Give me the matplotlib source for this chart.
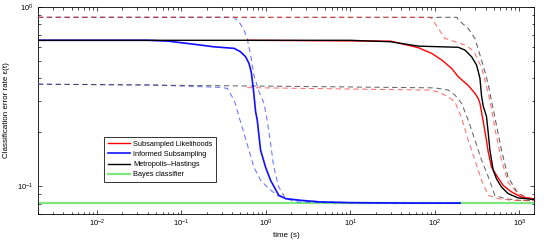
import matplotlib.pyplot as plt
import matplotlib.ticker as mticker

plt.rcParams["font.family"] = ["Liberation Sans", "DejaVu Sans"]
plt.rcParams["mathtext.fontset"] = "custom"
plt.rcParams["mathtext.rm"] = "Liberation Sans"
plt.rcParams["mathtext.it"] = "Liberation Sans:italic"

# --- Informed Subsampling (blue) ---
is_t = [0.002, 0.04, 0.07, 0.1, 0.16, 0.24, 0.42, 0.5, 0.575, 0.63, 0.67, 0.71,
        0.756, 0.79, 0.865, 0.99, 1.135, 1.42, 1.71, 2.57, 4.43, 10, 50, 200]
is_e = [0.652, 0.652, 0.645, 0.632, 0.615, 0.600, 0.588, 0.563, 0.528, 0.485, 0.435, 0.351,
        0.260, 0.234, 0.159, 0.128, 0.108, 0.089, 0.0853, 0.0835, 0.0817, 0.081, 0.0805, 0.0805]
is_up_t = [0.002, 0.42, 0.48, 0.55, 0.60, 0.66, 0.72, 0.83, 0.95, 1.035, 1.135, 1.24,
           1.42, 1.71, 2.32, 5, 20, 200]
is_up_e = [0.876, 0.876, 0.828, 0.744, 0.668, 0.54, 0.417, 0.336, 0.29, 0.234, 0.174, 0.128,
           0.099, 0.0853, 0.0817, 0.081, 0.0805, 0.0805]
is_lo_t = [0.002, 0.04, 0.3, 0.35, 0.40, 0.42, 0.44, 0.48, 0.55, 0.63, 0.72, 0.865,
           1.084, 1.36, 1.71, 2.57, 10, 200]
is_lo_e = [0.371, 0.368, 0.356, 0.351, 0.315, 0.302, 0.284, 0.244, 0.198, 0.159, 0.128, 0.108,
           0.097, 0.089, 0.0853, 0.083, 0.081, 0.0805]

# --- Metropolis-Hastings (black) ---
mh_t = [0.002, 10, 30, 64, 190, 228, 273, 313, 343, 358, 375, 410, 430, 450, 492,
        539, 617, 739, 971, 1500]
mh_e = [0.652, 0.652, 0.64, 0.605, 0.596, 0.575, 0.528, 0.474, 0.40, 0.32, 0.28, 0.245,
        0.198, 0.159, 0.123, 0.11, 0.099, 0.091, 0.0861, 0.0843]
mh_up_t = [0.002, 183, 190, 249, 299, 343, 393, 430, 470, 515, 617, 739, 971, 1300, 1500]
mh_up_e = [0.876, 0.876, 0.846, 0.76, 0.668, 0.54, 0.435, 0.37, 0.3, 0.243, 0.159, 0.112,
           0.091, 0.0853, 0.085]
mh_lo_t = [0.002, 1, 100, 145, 174, 208, 249, 299, 358, 430, 515, 676, 971, 1500]
mh_lo_e = [0.371, 0.362, 0.354, 0.344, 0.322, 0.29, 0.234, 0.181, 0.14, 0.113, 0.089,
           0.0853, 0.0835, 0.083]

# --- Subsampled Likelihoods (red) ---
sl_t = [0.6, 30, 64, 92, 121, 158, 190, 249, 299, 327, 343, 358, 375, 410, 430, 470,
        539, 646, 809, 1062, 1500]
sl_e = [0.652, 0.645, 0.593, 0.551, 0.506, 0.455, 0.408, 0.365, 0.33, 0.309, 0.29, 0.26,
        0.23, 0.18, 0.155, 0.128, 0.115, 0.101, 0.093, 0.087, 0.085]
sl_up_t = [0.002, 84, 92, 110, 132, 174, 228, 273, 299, 358, 430, 470, 515, 617, 739,
           971, 1381, 1500]
sl_up_e = [0.876, 0.876, 0.865, 0.76, 0.668, 0.64, 0.613, 0.58, 0.55, 0.46, 0.33, 0.27,
           0.21, 0.14, 0.105, 0.091, 0.0853, 0.085]
sl_lo_t = [0.6, 84, 110, 145, 174, 208, 249, 299, 358, 430, 564, 809, 1500]
sl_lo_e = [0.355, 0.344, 0.336, 0.315, 0.295, 0.24, 0.181, 0.14, 0.108, 0.089, 0.0853,
           0.0835, 0.083]

# --- Bayes classifier (green) ---
bayes_t = [0.002, 1500]
bayes_e = [0.0807, 0.0807]

fig = plt.figure(figsize=(5.54, 2.42), dpi=100)
ax = fig.add_axes([0.0686, 0.1157, 0.8954, 0.8553])

dash = (5, 3.5)
ax.plot(bayes_t, bayes_e, color="#7ee87e", lw=1.6, zorder=2)

ax.plot(is_up_t, is_up_e, color="#4a5cff", lw=0.75, dashes=dash, alpha=0.85, zorder=3)
ax.plot(is_lo_t, is_lo_e, color="#4a5cff", lw=0.75, dashes=dash, alpha=0.85, zorder=3)
ax.plot(mh_up_t, mh_up_e, color="#333333", lw=0.75, dashes=dash, alpha=0.8, zorder=3)
ax.plot(mh_lo_t, mh_lo_e, color="#333333", lw=0.75, dashes=dash, alpha=0.75, zorder=3)
ax.plot(sl_up_t, sl_up_e, color="#ff3030", lw=0.75, dashes=dash, alpha=0.7, zorder=3)
ax.plot(sl_lo_t, sl_lo_e, color="#ff3030", lw=0.75, dashes=dash, alpha=0.7, zorder=3)

ax.plot(sl_t, sl_e, color="#ff0000", lw=1.0, zorder=4, label="Subsampled Likelihoods")
ax.plot(is_t, is_e, color="#1010ff", lw=1.2, zorder=4, label="Informed Subsampling")
ax.plot(mh_t, mh_e, color="black", lw=1.0, zorder=4, label="Metropolis\u2013Hastings")
ax.plot([], [], color="#7ee87e", lw=1.6, label="Bayes classifier")

ax.set_xscale("log")
ax.set_yscale("log")
ax.set_xlim(0.002, 1500)
ax.set_ylim(0.07, 1.0)

ax.xaxis.set_major_locator(mticker.LogLocator(base=10, numticks=12))
ax.xaxis.set_minor_locator(mticker.LogLocator(base=10, subs=range(2, 10), numticks=12))
ax.xaxis.set_minor_formatter(mticker.NullFormatter())
ax.yaxis.set_major_locator(mticker.FixedLocator([0.1, 1.0]))
ax.yaxis.set_major_formatter(mticker.FixedFormatter([r"$10^{-1}$", r"$10^{0}$"]))
ax.yaxis.set_minor_locator(mticker.LogLocator(base=10, subs=range(2, 10), numticks=12))
ax.yaxis.set_minor_formatter(mticker.NullFormatter())

ax.tick_params(which="both", direction="in", top=True, right=True, labelsize=5.5, width=0.5)
ax.tick_params(which="major", length=3, pad=3)
ax.tick_params(which="minor", length=1.8)
for s in ax.spines.values():
    s.set_linewidth(0.6)

ax.set_xlabel("time (s)", fontsize=5.8, labelpad=2)
ax.set_ylabel("Classification error rate \u03b5(t)", fontsize=5.8, labelpad=5)

leg = ax.legend(loc="lower left", bbox_to_anchor=(0.133, 0.155), borderaxespad=0,
                fontsize=5.3, handlelength=3.0, handletextpad=0.5, labelspacing=0.4,
                borderpad=0.5, fancybox=False, framealpha=1)
leg.get_frame().set_edgecolor("#333333")
leg.get_frame().set_linewidth(0.7)

fig.savefig("out.png", dpi=100)
